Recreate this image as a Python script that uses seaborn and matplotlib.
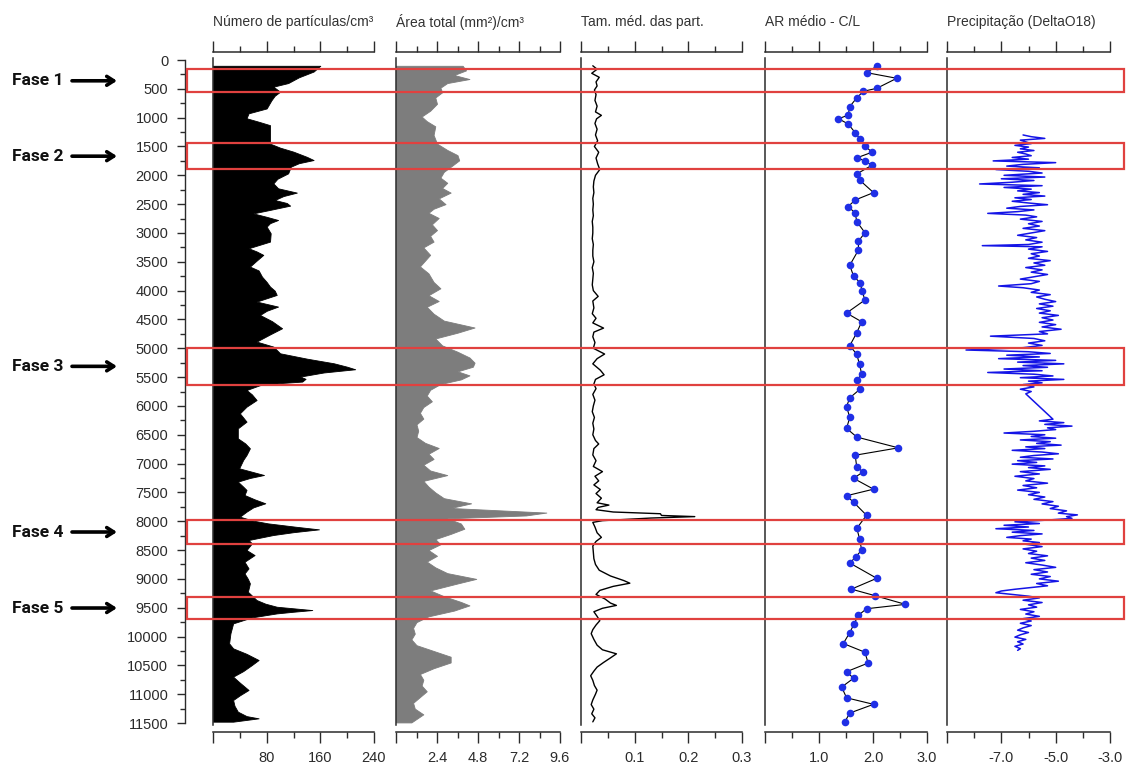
import matplotlib
matplotlib.use("Agg")
import matplotlib.pyplot as plt
from matplotlib.patches import Rectangle
from matplotlib.transforms import blended_transform_factory
from matplotlib.ticker import FixedLocator, FixedFormatter, MultipleLocator, NullFormatter
import seaborn as sns

# ---------------------------------------------------------------- data
# depth (anos) , value
particles = [
    (100, 160), (200, 150), (300, 128), (400, 112), (462, 90), (550, 100), (620, 92),
    (700, 87), (840, 80), (925, 53), (1010, 50), (1070, 68), (1130, 85), (1450, 85),
    (1520, 100), (1590, 120), (1680, 140), (1735, 150), (1790, 128), (1850, 116),
    (1966, 112), (2060, 96), (2140, 90), (2225, 97), (2300, 125), (2360, 105),
    (2428, 92), (2480, 110), (2526, 115), (2600, 85), (2660, 60), (2720, 80),
    (2775, 97), (2830, 85), (2890, 80), (3005, 86), (3150, 85), (3265, 53), (3320, 65),
    (3380, 75), (3480, 65), (3583, 55), (3650, 68), (3757, 73), (3850, 80), (3930, 85),
    (4000, 92), (4075, 95), (4190, 65), (4277, 97), (4350, 80), (4422, 70), (4530, 88),
    (4653, 103), (4760, 85), (4884, 65), (4971, 90), (5087, 100), (5180, 140),
    (5260, 180), (5320, 200), (5364, 212), (5420, 165), (5491, 130), (5530, 138),
    (5578, 133), (5600, 105), (5640, 70), (5724, 50), (5800, 58), (5898, 65),
    (6013, 50), (6129, 40), (6200, 45), (6273, 50), (6389, 37), (6562, 37), (6650, 48),
    (6735, 55), (6850, 50), (6937, 45), (7082, 39), (7198, 76), (7250, 55), (7313, 37),
    (7400, 45), (7458, 50), (7545, 47), (7620, 62), (7689, 78), (7760, 60), (7834, 50),
    (7921, 40), (7990, 60), (8037, 82), (8095, 123), (8141, 158), (8190, 120),
    (8239, 90), (8326, 53), (8384, 58), (8500, 50), (8587, 62), (8703, 47), (8818, 53),
    (8905, 47), (9000, 52), (9078, 55), (9223, 52), (9367, 65), (9430, 78), (9483, 95),
    (9541, 148), (9570, 120), (9599, 95), (9668, 58), (9772, 30), (9945, 26),
    (10118, 24), (10205, 30), (10300, 50), (10407, 68), (10494, 58), (10600, 45),
    (10696, 30), (10800, 40), (10927, 53), (11020, 40), (11101, 30), (11200, 32),
    (11303, 37), (11380, 50), (11419, 68), (11477, 30),
]

area_total = [
    (100, 3.9), (180, 4.1), (260, 3.4), (330, 4.3), (400, 3.0), (480, 2.6), (560, 2.7),
    (650, 2.3), (760, 2.4), (880, 2.0), (980, 1.5), (1060, 1.8), (1150, 2.3), (1300, 2.2),
    (1450, 2.4), (1560, 3.0), (1650, 3.6), (1740, 3.7), (1830, 3.3), (1940, 2.8),
    (2040, 2.6), (2130, 3.0), (2220, 2.7), (2300, 3.2), (2400, 2.5), (2500, 2.9),
    (2580, 2.2), (2650, 1.9), (2740, 2.5), (2850, 2.1), (2950, 2.4), (3050, 2.0),
    (3150, 2.2), (3250, 1.6), (3380, 2.0), (3480, 1.7), (3580, 1.4), (3700, 1.9),
    (3850, 2.2), (3960, 2.6), (4080, 1.9), (4180, 2.5), (4280, 1.8), (4400, 2.2),
    (4520, 2.8), (4640, 4.6), (4730, 3.6), (4830, 2.3), (4950, 2.7), (5060, 3.6),
    (5160, 4.3), (5250, 4.6), (5320, 4.5), (5400, 3.6), (5470, 4.3), (5540, 3.8),
    (5620, 2.6), (5720, 2.0), (5820, 1.8), (5920, 2.1), (6020, 1.6), (6120, 1.4),
    (6220, 1.6), (6320, 1.2), (6430, 1.3), (6540, 1.2), (6640, 1.7), (6730, 2.5),
    (6830, 1.9), (6920, 2.2), (7020, 1.6), (7120, 2.0), (7200, 3.0), (7300, 1.6),
    (7400, 1.9), (7500, 2.3), (7600, 2.8), (7690, 4.4), (7770, 3.2), (7850, 8.8),
    (7900, 7.6), (7950, 3.0), (8040, 3.8), (8130, 4.0), (8220, 3.2), (8310, 2.3),
    (8400, 2.6), (8500, 1.9), (8600, 2.4), (8700, 1.8), (8800, 2.3), (8900, 3.0),
    (9000, 4.7), (9080, 3.6), (9200, 2.0), (9300, 2.8), (9400, 3.8), (9460, 4.3),
    (9550, 3.4), (9650, 1.9), (9750, 1.2), (9850, 1.0), (9950, 1.1), (10050, 0.9),
    (10150, 1.2), (10250, 2.2), (10350, 3.2), (10450, 3.2), (10550, 2.2), (10650, 1.4),
    (10750, 1.6), (10850, 1.5), (10950, 1.8), (11050, 1.4), (11150, 1.0), (11250, 1.1),
    (11350, 1.6), (11450, 1.1), (11490, 0.9),
]

mean_size = [
    (100, 0.022), (160, 0.030), (230, 0.020), (300, 0.034), (380, 0.028), (450, 0.030),
    (520, 0.025), (600, 0.028), (700, 0.026), (800, 0.030), (900, 0.027), (960, 0.038),
    (1020, 0.029), (1100, 0.026), (1200, 0.030), (1300, 0.027), (1400, 0.031),
    (1500, 0.025), (1600, 0.033), (1700, 0.028), (1800, 0.031), (1900, 0.035),
    (2000, 0.027), (2100, 0.024), (2200, 0.023), (2300, 0.024), (2400, 0.022),
    (2500, 0.023), (2600, 0.022), (2700, 0.023), (2800, 0.021), (2900, 0.022),
    (3000, 0.022), (3100, 0.021), (3200, 0.023), (3300, 0.022), (3400, 0.022),
    (3500, 0.024), (3600, 0.021), (3700, 0.023), (3800, 0.022), (3900, 0.021),
    (4000, 0.023), (4100, 0.032), (4180, 0.022), (4300, 0.024), (4400, 0.021),
    (4480, 0.028), (4560, 0.022), (4650, 0.042), (4720, 0.024), (4800, 0.022),
    (4900, 0.026), (5000, 0.023), (5100, 0.044), (5180, 0.030), (5270, 0.022),
    (5380, 0.036), (5460, 0.043), (5540, 0.027), (5620, 0.024), (5700, 0.028),
    (5800, 0.022), (5900, 0.026), (6000, 0.023), (6100, 0.021), (6200, 0.025),
    (6300, 0.022), (6400, 0.024), (6500, 0.022), (6600, 0.027), (6660, 0.033),
    (6740, 0.024), (6850, 0.022), (6950, 0.028), (7050, 0.023), (7140, 0.040),
    (7220, 0.026), (7300, 0.033), (7370, 0.024), (7450, 0.036), (7520, 0.028),
    (7600, 0.038), (7680, 0.030), (7720, 0.052), (7760, 0.032), (7800, 0.028),
    (7840, 0.060), (7870, 0.148), (7900, 0.150), (7920, 0.212), (7945, 0.130),
    (7965, 0.091), (7990, 0.040), (8020, 0.022), (8100, 0.026), (8200, 0.030),
    (8280, 0.038), (8350, 0.028), (8430, 0.022), (8550, 0.023), (8650, 0.024),
    (8750, 0.027), (8850, 0.034), (8950, 0.055), (9030, 0.080), (9075, 0.091),
    (9130, 0.060), (9200, 0.035), (9270, 0.028), (9350, 0.045), (9420, 0.055),
    (9460, 0.066), (9510, 0.040), (9570, 0.024), (9650, 0.030), (9725, 0.035),
    (9800, 0.028), (9880, 0.022), (9950, 0.019), (10050, 0.024), (10150, 0.030),
    (10230, 0.040), (10300, 0.066), (10370, 0.055), (10450, 0.042), (10530, 0.030),
    (10600, 0.024), (10680, 0.018), (10760, 0.022), (10850, 0.025), (10930, 0.030),
    (11000, 0.027), (11100, 0.022), (11180, 0.019), (11260, 0.024), (11340, 0.020),
    (11410, 0.026), (11480, 0.022),
]

ar_depth = [106, 219, 317, 491, 543, 656, 807, 957, 1018, 1109, 1260, 1373, 1487, 1600,
            1697, 1750, 1825, 1976, 2089, 2300, 2428, 2541, 2654, 2805, 2994, 3145, 3296,
            3560, 3749, 3862, 4010, 4163, 4389, 4540, 4729, 4955, 5105, 5280, 5445, 5558,
            5709, 5860, 6011, 6200, 6389, 6540, 6727, 6855, 7067, 7142, 7256, 7444, 7558,
            7670, 7896, 8123, 8300, 8500, 8620, 8725, 8990, 9178, 9292, 9442, 9518, 9631,
            9780, 9932, 10121, 10272, 10460, 10610, 10724, 10876, 11063, 11176, 11327, 11478]
ar_mean = [2.07, 1.88, 2.44, 2.07, 1.82, 1.70, 1.57, 1.54, 1.36, 1.54, 1.67, 1.76, 1.85, 1.98,
           1.70, 1.85, 1.98, 1.70, 1.76, 2.01, 1.67, 1.54, 1.67, 1.70, 1.85, 1.73, 1.73,
           1.57, 1.64, 1.76, 1.80, 1.85, 1.51, 1.79, 1.70, 1.57, 1.70, 1.75, 1.79, 1.70,
           1.76, 1.57, 1.51, 1.57, 1.51, 1.70, 2.47, 1.67, 1.70, 1.82, 1.64, 2.01, 1.51,
           1.64, 1.88, 1.70, 1.75, 1.79, 1.68, 1.57, 2.07, 1.60, 2.04, 2.60, 1.88, 1.73,
           1.65, 1.57, 1.45, 1.85, 1.91, 1.51, 1.64, 1.42, 1.51, 2.01, 1.57, 1.48]

delta_o18 = [
    (1300, -6.2), (1330, -5.9), (1360, -5.4), (1390, -6.3), (1420, -6.1), (1450, -5.9),
    (1480, -6.5), (1510, -6.0), (1540, -6.3), (1570, -5.8), (1600, -6.4), (1630, -6.1),
    (1660, -5.9), (1690, -6.6), (1720, -6.0), (1750, -7.3), (1780, -5.0), (1810, -6.2),
    (1840, -6.8), (1870, -5.6), (1900, -7.2), (1930, -6.0), (1960, -5.5),
    (2000, -6.9), (2030, -5.4), (2060, -7.0), (2090, -5.8), (2120, -6.6), (2150, -7.8),
    (2180, -5.5), (2210, -6.9), (2240, -5.9), (2270, -6.4), (2300, -5.6), (2330, -6.2),
    (2360, -5.4), (2390, -6.5), (2420, -5.9), (2450, -6.6), (2480, -6.0), (2510, -5.3),
    (2540, -6.3), (2570, -6.8), (2600, -5.8), (2630, -6.4), (2660, -7.5), (2690, -6.1),
    (2720, -5.7), (2760, -6.3), (2800, -5.5), (2840, -6.0), (2880, -5.6), (2920, -6.2),
    (2960, -5.4), (3000, -5.9), (3040, -6.4), (3080, -5.7), (3120, -6.1), (3160, -5.5),
    (3200, -6.0), (3220, -7.7), (3240, -5.5), (3280, -6.0),
    (3320, -5.3), (3360, -5.9), (3400, -5.6), (3440, -6.0), (3480, -5.2), (3520, -5.8),
    (3560, -5.4), (3600, -6.1), (3640, -5.5), (3680, -5.9), (3720, -5.3), (3760, -5.8),
    (3800, -6.3), (3840, -5.6), (3880, -5.9), (3920, -7.1), (3950, -6.2), (3990, -5.6),
    (4030, -5.9),
    (4070, -5.2), (4110, -5.7), (4150, -5.4), (4190, -5.0), (4230, -5.6), (4270, -5.1),
    (4310, -5.7), (4350, -5.2), (4390, -5.6), (4430, -4.9), (4470, -5.5), (4510, -5.1),
    (4550, -5.6), (4590, -5.0), (4630, -5.5), (4670, -4.8), (4710, -5.6), (4750, -5.3),
    (4790, -7.4), (4830, -5.8), (4870, -5.4), (4910, -6.0), (4950, -5.5),
    (4990, -6.2), (5030, -8.3), (5060, -6.0), (5090, -5.2), (5120, -6.8), (5150, -5.6),
    (5180, -7.1), (5210, -5.0), (5240, -6.4), (5270, -4.7), (5300, -6.2), (5330, -5.3),
    (5360, -6.9), (5390, -5.5), (5420, -7.5), (5450, -5.8), (5480, -5.1), (5510, -6.3),
    (5540, -4.7), (5570, -6.0), (5600, -5.5), (5630, -6.2),
    (5670, -5.8), (5710, -6.3), (5750, -5.9), (5790, -6.1),
    (6230, -5.1), (6260, -5.6), (6290, -4.7), (6320, -5.4), (6350, -4.4), (6380, -5.3),
    (6410, -5.0), (6440, -5.8), (6470, -6.9), (6500, -5.4), (6530, -5.9), (6560, -5.0),
    (6590, -6.3), (6620, -5.2), (6650, -5.7), (6680, -4.8), (6710, -6.1), (6740, -5.4),
    (6770, -6.6), (6800, -5.5), (6830, -4.9), (6860, -5.8), (6890, -6.3), (6920, -5.1),
    (6950, -6.4), (6980, -5.7), (7010, -6.6), (7040, -5.4), (7070, -6.0),
    (7100, -5.2), (7140, -6.3), (7180, -5.6), (7220, -6.5), (7260, -5.8), (7300, -6.1),
    (7340, -5.3), (7380, -6.2), (7420, -5.7), (7460, -6.4), (7500, -5.6), (7540, -6.0),
    (7580, -5.4), (7620, -5.8), (7660, -5.1), (7700, -5.5), (7740, -4.9), (7780, -5.2),
    (7820, -4.6), (7860, -4.9), (7890, -4.2), (7920, -4.6), (7950, -4.4),
    (7980, -5.3), (8010, -6.5), (8040, -5.6), (8070, -6.9), (8100, -6.0), (8130, -7.2),
    (8160, -5.8), (8190, -6.6), (8220, -5.5), (8250, -6.3), (8280, -6.8), (8310, -5.9),
    (8340, -6.2), (8370, -5.6), (8400, -6.1),
    (8440, -5.5), (8480, -6.2), (8520, -5.7), (8560, -6.0), (8600, -5.3), (8640, -5.9),
    (8680, -5.4), (8720, -6.1), (8760, -5.5), (8800, -5.0), (8840, -5.8), (8880, -5.3),
    (8920, -5.9), (8960, -5.2), (9000, -5.6), (9040, -4.9), (9080, -5.7), (9120, -5.3),
    (9150, -5.9),
    (9180, -6.5), (9210, -7.0), (9240, -7.2), (9270, -6.6), (9300, -6.0), (9330, -5.6),
    (9370, -6.2), (9410, -5.5), (9450, -6.0), (9490, -5.7), (9530, -6.3), (9570, -5.8),
    (9610, -6.1), (9650, -5.6), (9690, -6.2), (9730, -5.9), (9770, -6.3), (9810, -5.9),
    (9850, -6.2), (9890, -6.4), (9930, -6.0), (9970, -6.3), (10010, -6.5), (10050, -6.1),
    (10090, -6.4), (10130, -6.2), (10170, -6.5), (10210, -6.3), (10240, -6.4),
]

phase_labels = ["Fase 1", "Fase 2", "Fase 3", "Fase 4", "Fase 5"]
phase_top = [161, 1445, 4990, 7979, 9320]
phase_bottom = [560, 1891, 5637, 8395, 9691]

titles = ["Número de partículas/cm³", "Área total (mm²)/cm³", "Tam. méd. das part.",
          "AR médio - C/L", "Precipitação (DeltaO18)"]
x_limits = [(0, 240), (0, 9.6), (0, 0.3), (0, 3.0), (-9, -3)]
major_ticks = [[0, 80, 160, 240], [0, 2.4, 4.8, 7.2, 9.6], [0, 0.1, 0.2, 0.3],
               [0, 1.0, 2.0, 3.0], [-9, -7, -5, -3]]
major_labels = [["", "80", "160", "240"], ["", "2.4", "4.8", "7.2", "9.6"],
                ["", "0.1", "0.2", "0.3"], ["", "1.0", "2.0", "3.0"],
                ["", "-7.0", "-5.0", "-3.0"]]
minor_steps = [40, 1.2, 0.05, 0.5, 1.0]

# ---------------------------------------------------------------- layout
sns.set_style("ticks")
plt.rcParams["font.family"] = ["Liberation Sans", "DejaVu Sans"]

W, H = 1127, 765
fig = plt.figure(figsize=(W / 100, H / 100), dpi=100)
fig.patch.set_facecolor("white")


def fx(px):
    return px / W


def fy(py):
    return 1 - py / H


TOP, BOTTOM = 52, 732
Y_TOP, Y_BOTTOM = -139, 11656
AX_COLOR = "#2b2b2b"
TXT_COLOR = "#2b2b2b"

panel_px = [(213, 374), (396, 560), (581, 742), (765, 927), (947, 1110)]

# depth axis
ax_d = fig.add_axes([fx(185), fy(BOTTOM), fx(20), (BOTTOM - TOP) / H])
ax_d.set_ylim(Y_BOTTOM, Y_TOP)
ax_d.patch.set_alpha(0)
for s in ["top", "right", "bottom"]:
    ax_d.spines[s].set_visible(False)
ax_d.spines["left"].set_bounds(0, 11500)
ax_d.spines["left"].set_color(AX_COLOR)
ax_d.spines["left"].set_linewidth(1.0)
ax_d.xaxis.set_visible(False)
ax_d.yaxis.set_major_locator(MultipleLocator(500))
ax_d.yaxis.set_minor_locator(MultipleLocator(250))
ax_d.tick_params(axis="y", which="major", length=6, width=1.0, color=AX_COLOR,
                 labelsize=10.5, labelcolor=TXT_COLOR, pad=6)
ax_d.tick_params(axis="y", which="minor", length=3.5, width=1.0, color=AX_COLOR)

axes = []
for i, (l, r) in enumerate(panel_px):
    ax = fig.add_axes([fx(l), fy(BOTTOM), fx(r - l), (BOTTOM - TOP) / H])
    ax.patch.set_alpha(0)
    axes.append(ax)

ax1, ax2, ax3, ax4, ax5 = axes

# particle count
p_depth = [d for d, v in particles]
p_val = [v for d, v in particles]
ax1.fill_betweenx(p_depth, 0, p_val, color="black", lw=0.6, edgecolor="black")

# total area
a_depth = [d for d, v in area_total]
a_val = [v for d, v in area_total]
ax2.fill_betweenx(a_depth, 0, a_val, color="#7d7d7d", lw=0.6, edgecolor="#7d7d7d")

# mean particle size
s_depth = [d for d, v in mean_size]
s_val = [v for d, v in mean_size]
sns.lineplot(x=s_val, y=s_depth, orient="y", estimator=None, color="black", lw=1.0, ax=ax3)

# aspect ratio
sns.lineplot(x=ar_mean, y=ar_depth, orient="y", estimator=None, color="black", lw=0.8, ax=ax4)
sns.scatterplot(x=ar_mean, y=ar_depth, color="#1f2fe6", s=30, linewidth=0, ax=ax4, zorder=3)

# delta O18
o_depth = [d for d, v in delta_o18]
o_val = [v for d, v in delta_o18]
sns.lineplot(x=o_val, y=o_depth, orient="y", estimator=None, color="#1414e6", lw=1.1, ax=ax5)

for i, ax in enumerate(axes):
    ax.set_xlim(*x_limits[i])
    ax.set_ylim(Y_BOTTOM, Y_TOP)
    ax.set_xlabel("")
    ax.set_ylabel("")
    ax.yaxis.set_visible(False)
    ax.spines["right"].set_visible(False)
    ax.spines["left"].set_bounds(-40, 11540)
    for s in ["left", "top", "bottom"]:
        ax.spines[s].set_color(AX_COLOR)
        ax.spines[s].set_linewidth(1.1)
    ax.xaxis.set_major_locator(FixedLocator(major_ticks[i]))
    ax.xaxis.set_major_formatter(FixedFormatter(major_labels[i]))
    ax.xaxis.set_minor_locator(MultipleLocator(minor_steps[i]))
    ax.xaxis.set_minor_formatter(NullFormatter())
    ax.tick_params(axis="x", which="both", top=True, bottom=True, direction="out",
                   labeltop=False, labelbottom=True, color=AX_COLOR, width=1.0)
    ax.tick_params(axis="x", which="major", length=8, labelsize=10.5,
                   labelcolor=TXT_COLOR, pad=6)
    ax.tick_params(axis="x", which="minor", length=4.5)
    l, r = panel_px[i]
    fig.text(fx(l), fy(22), titles[i], fontsize=10, color="#333333", ha="left", va="center")

# phase boxes, labels and arrows
trans = blended_transform_factory(fig.transFigure, ax_d.transData)
for name, t, b in zip(phase_labels, phase_top, phase_bottom):
    rect = Rectangle((fx(187), t), fx(1124) - fx(187), b - t, transform=trans,
                     fill=False, edgecolor="#e0413f", linewidth=1.6, zorder=5)
    fig.add_artist(rect)
    c = (t + b) / 2
    fig.text(fx(12), c, name, transform=trans, fontsize=12.5, fontweight="bold",
             family=["Roboto", "DejaVu Sans"], ha="left", va="center", color="#111111")
    ax_d.annotate("", xy=(fx(117), c), xytext=(fx(72), c), xycoords=trans, textcoords=trans,
                  arrowprops=dict(arrowstyle="->,head_length=0.5,head_width=0.32", lw=2.6,
                                  color="black", shrinkA=0, shrinkB=0),
                  annotation_clip=False)

fig.savefig("out.png", dpi=100)
